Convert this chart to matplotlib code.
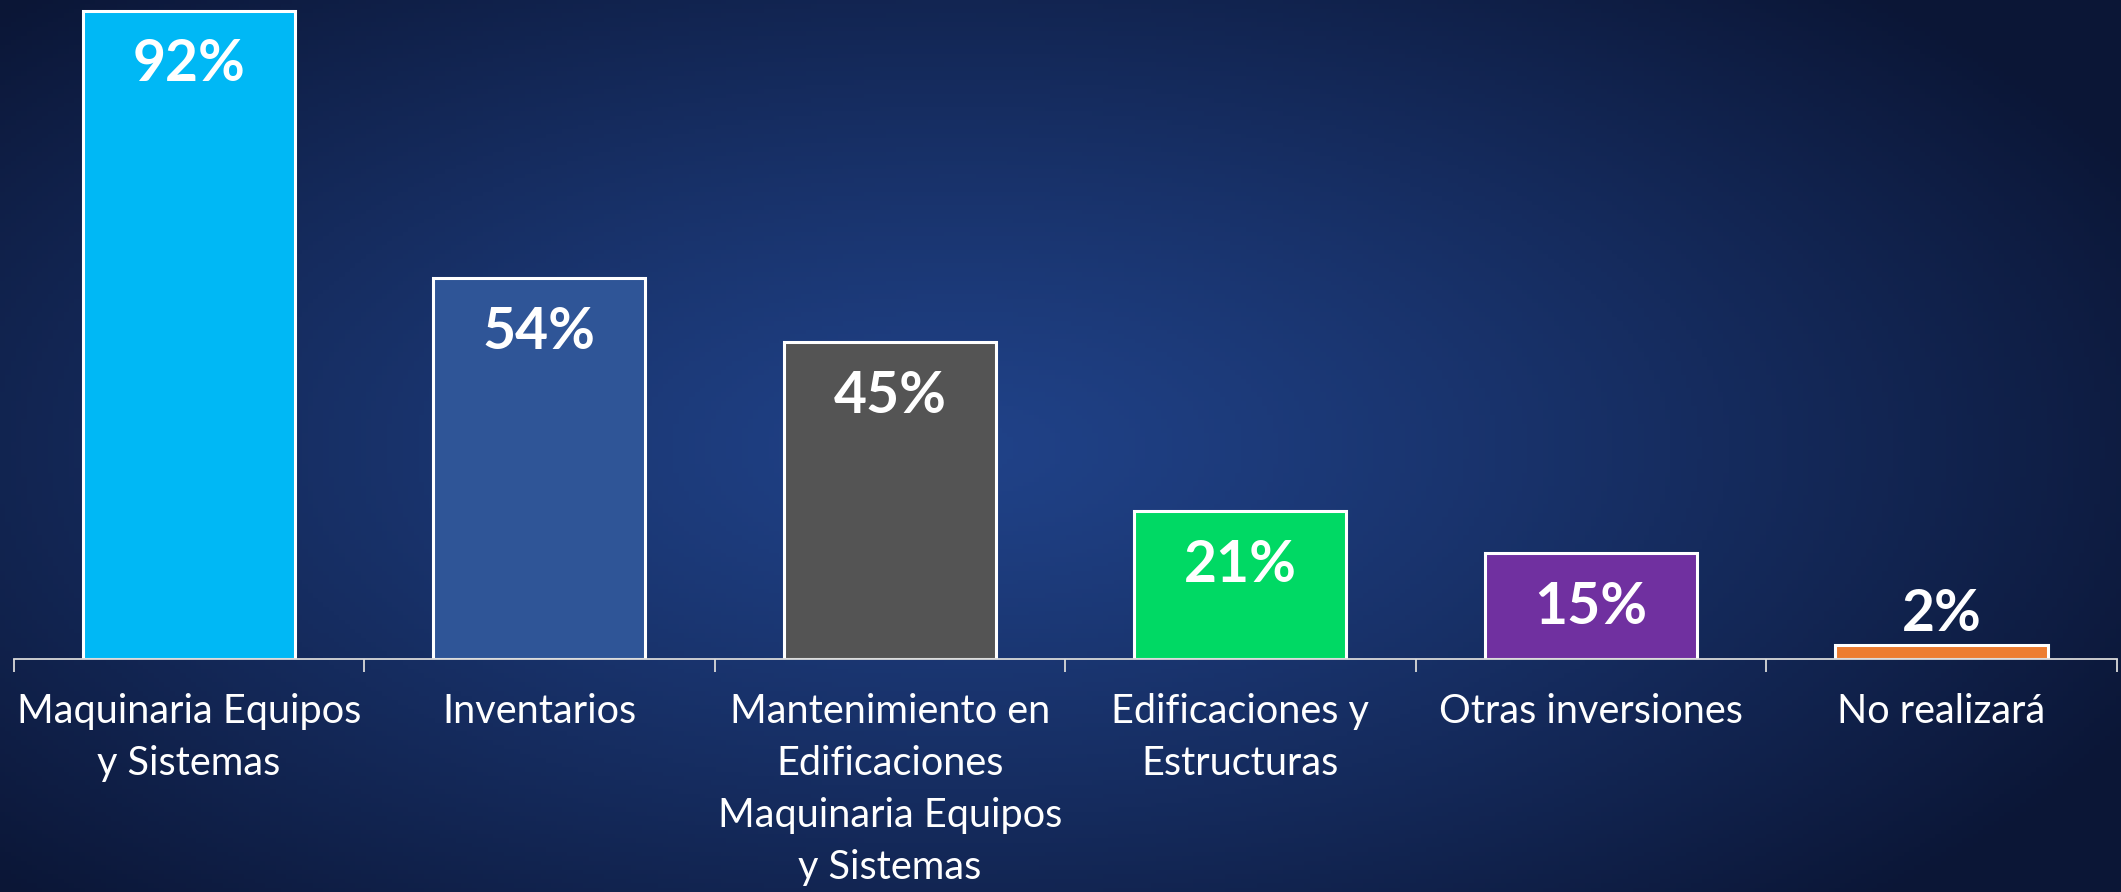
import matplotlib
matplotlib.use("Agg")
import matplotlib.pyplot as plt
import numpy as np

categories = ["Maquinaria Equipos\ny Sistemas", "Inventarios",
              "Mantenimiento en\nEdificaciones\nMaquinaria Equipos\ny Sistemas",
              "Edificaciones y\nEstructuras", "Otras inversiones", "No realizará"]
values = [92, 54, 45, 21, 15, 2]
colors = ["#00B8F5", "#2F5597", "#545454", "#00D964", "#7030A0", "#ED7D31"]

plt.rcParams['font.family'] = ['Lato', 'DejaVu Sans']

fig = plt.figure(figsize=(21.21, 8.92), dpi=100)

# background gradient
bg = fig.add_axes([0, 0, 1, 1])
h, w = 200, 400
yy, xx = np.mgrid[0:h, 0:w]
r = np.sqrt(((xx / w - 0.45) * 1.25) ** 2 + ((yy / h - 0.5) * 1.1) ** 2)
r = np.clip(r / 0.78, 0, 1) ** 1.2
c_in = np.array([0x20, 0x42, 0x88]) / 255
c_out = np.array([0x0b, 0x16, 0x36]) / 255
img = c_in[None, None, :] * (1 - r[..., None]) + c_out[None, None, :] * r[..., None]
bg.imshow(img, aspect="auto", extent=[0, 1, 0, 1])
bg.axis("off")

ax = fig.add_axes([0.0064, 0.261, 0.9916, 0.739])
ax.patch.set_alpha(0)
x = np.arange(len(values))
bars = ax.bar(x, values, width=0.605, color=colors, edgecolor="white", linewidth=2.2)

ax.set_xlim(-0.5, len(values) - 0.5)
ax.set_ylim(0, 93.5)

for rect, v in zip(bars, values):
    cx = rect.get_x() + rect.get_width() / 2
    if v > 5:
        ax.annotate(f"{v}%", (cx, v), xytext=(0, -39), textcoords="offset points",
                    ha="center", va="center", color="white", fontsize=41, fontweight="bold")
    else:
        ax.annotate(f"{v}%", (cx, v), xytext=(0, 22), textcoords="offset points",
                    ha="center", va="center", color="white", fontsize=41, fontweight="bold")

for s in ["top", "right", "left"]:
    ax.spines[s].set_visible(False)
ax.spines["bottom"].set_color("#d9d9d9")
ax.spines["bottom"].set_linewidth(1.3)
ax.set_yticks([])
ax.set_xticks(x)
ax.set_xticklabels(categories, color="white", fontsize=28.5, linespacing=1.5, va="top")
ax.tick_params(axis="x", which="major", length=0, pad=24)
ax.set_xticks(np.arange(-0.5, len(values)), minor=True)
ax.tick_params(axis="x", which="minor", length=9, width=1.3, color="#d9d9d9", direction="out")

fig.savefig("out.png", dpi=100)
